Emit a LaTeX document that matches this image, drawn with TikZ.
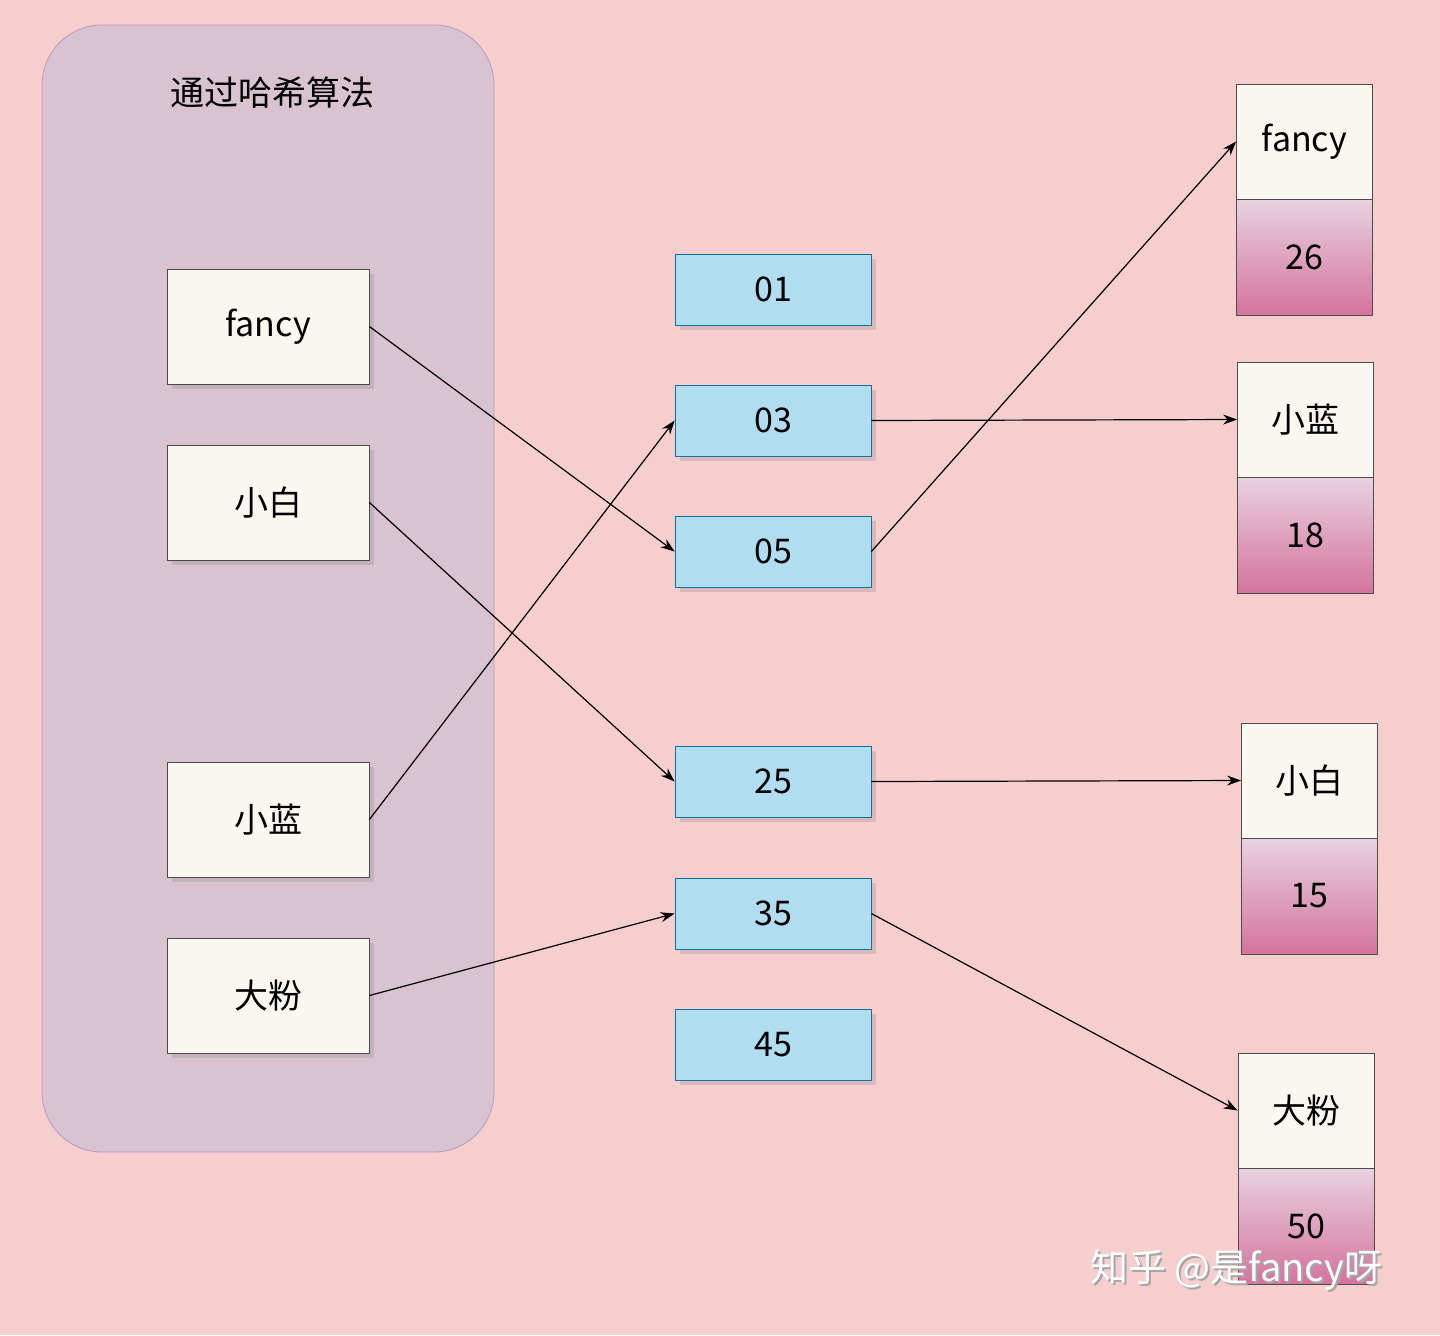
\documentclass[tikz,border=0pt]{standalone}
\usepackage{fontspec}
\setmainfont{Noto Sans CJK SC}
\usetikzlibrary{shadows,arrows.meta}
\definecolor{bg}{HTML}{F6CECE}
\definecolor{grp}{HTML}{D9C3D0}
\definecolor{grpb}{HTML}{B79AC2}
\definecolor{cream}{HTML}{F9F7EF}
\definecolor{blu}{HTML}{B1DDF0}
\definecolor{blub}{HTML}{10739E}
\definecolor{pkt}{HTML}{E8D2DF}
\definecolor{pkb}{HTML}{D5739D}
\begin{document}
\begin{tikzpicture}[x=0.5pt,y=-0.5pt,
 txt/.style={font=\fontsize{17}{20}\selectfont},
 key/.style={txt,draw=black!70,fill=cream,minimum width=101pt,minimum height=57.5pt,inner sep=0pt,drop shadow={opacity=0.25}},
 slot/.style={txt,draw=blub,fill=blu,minimum width=98pt,minimum height=35.5pt,inner sep=0pt,drop shadow={opacity=0.25}},
 rk/.style={txt,draw=black!70,fill=cream,minimum width=68pt,minimum height=57.5pt,inner sep=0pt},
 rv/.style={txt,draw=black!70,top color=pkt,bottom color=pkb,minimum width=68pt,minimum height=58pt,inner sep=0pt},
 ar/.style={-{Stealth[length=7pt,width=5pt]},black,line width=0.6pt}]
\fill[bg] (0,0) rectangle (1440,1335);
\useasboundingbox (0,0) rectangle (1440,1335);
\node[draw=grpb,fill=grp,rounded corners=30pt,minimum width=226pt,minimum height=563.5pt,inner sep=0pt] (g) at (268,588.5) {};
\node[txt] (t) at (272,93) {通过哈希算法};
\node[key] (k1) at (268,326.5) {fancy};
\node[key] (k2) at (268,502.5) {小白};
\node[key] (k3) at (268,819.5) {小蓝};
\node[key] (k4) at (268,995.5) {大粉};
\node[slot] (s01) at (773,289.5) {01};
\node[slot] (s03) at (773,420.5) {03};
\node[slot] (s05) at (773,551.5) {05};
\node[slot] (s25) at (773,781.5) {25};
\node[slot] (s35) at (773,913.5) {35};
\node[slot] (s45) at (773,1044.5) {45};
\node[rk] (r1) at (1304.5,141.5) {fancy};
\node[rv] (v1) at (1304.5,257) {26};
\node[rk] (r2) at (1305.5,419.5) {小蓝};
\node[rv] (v2) at (1305.5,535) {18};
\node[rk] (r3) at (1309.5,780.5) {小白};
\node[rv] (v3) at (1309.5,896) {15};
\node[rk] (r4) at (1306,1110.5) {大粉};
\node[rv] (v4) at (1306,1226) {50};
\draw[ar] (k1.east) -- (s05.west);
\draw[ar] (k2.east) -- (s25.west);
\draw[ar] (k3.east) -- (s03.west);
\draw[ar] (k4.east) -- (s35.west);
\draw[ar] (s03.east) -- (r2.west);
\draw[ar] (s05.east) -- (r1.west);
\draw[ar] (s25.east) -- (r3.west);
\draw[ar] (s35.east) -- (r4.west);
\node[font=\fontsize{19}{22}\selectfont,text=black!35] (wm0) at (1238,1272) {知乎 @是fancy呀};
\node[font=\fontsize{19}{22}\selectfont,text=white] (wm) at (1236,1270) {知乎 @是fancy呀};
\end{tikzpicture}
\end{document}
